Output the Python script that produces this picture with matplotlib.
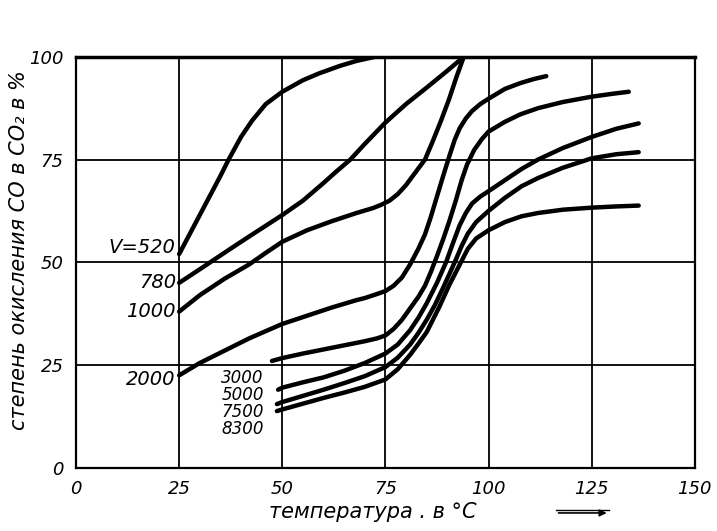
import numpy as np
import matplotlib.pyplot as plt

# кривые: степень окисления CO (%) от температуры (°C) при разных объемных скоростях
v520_x = [25, 30, 35, 37, 40, 42.7, 46, 50, 55, 59, 64, 68, 72.5]
v520_y = [52, 61.5, 71, 75, 80.5, 84.5, 88.5, 91.5, 94.3, 96, 97.8, 99, 100]

v780_x = [25, 30, 37, 42, 50, 55, 60, 63, 66.5, 70, 75, 80, 85, 90, 94]
v780_y = [45, 48.3, 53, 56.3, 61.5, 65, 69.3, 72, 75, 78.8, 84, 88.5, 92.5, 96.6, 100]

v1000_x = [25, 30, 36, 42, 46, 50, 56, 62, 68, 72, 74, 76, 78, 80, 82, 84.6, 86.5, 88.5, 90.4, 92.2, 94]
v1000_y = [38, 42, 46, 49.5, 52.3, 55, 57.8, 60, 62, 63.2, 64, 65, 66.6, 68.8, 71.5, 75, 79.5, 84.5, 89.6, 95, 100]

v2000_x = [25, 30, 35, 42, 50, 56, 62, 68, 70, 73, 75, 77, 79, 81, 83, 84.6, 86, 87.5, 89, 90.4,
           91.8, 93, 94.5, 96, 98, 100, 104, 107.7, 111, 114]
v2000_y = [22.5, 25.5, 28, 31.5, 35, 37, 39, 40.8, 41.3, 42.3, 43, 44.3, 46.3, 49.5, 53.3, 56.8, 61, 66, 71, 75.5,
           79.8, 82.6, 85, 86.8, 88.5, 89.8, 92.2, 93.6, 94.6, 95.3]

v3000_x = [47.5, 50, 55, 60, 65, 70, 73, 75, 77, 79, 81, 83, 84.6, 86, 87.5, 89, 90.5, 92, 93.5, 94.8,
           96.5, 98.4, 100, 104, 107.7, 112, 118, 125, 130, 134]
v3000_y = [26, 26.7, 27.8, 28.8, 29.8, 30.8, 31.5, 32.2, 33.8, 36, 38.8, 41.6, 44.3, 47.6, 51.5, 55.6, 60, 64.8, 70, 73.8,
           77.3, 80, 81.8, 84.2, 86, 87.5, 89, 90.3, 91, 91.5]

v5000_x = [49, 50, 55, 60, 65, 70, 75, 78, 81, 83, 85, 87.5, 89.7, 91.5, 93, 94.5, 96, 98, 100, 104, 108, 112,
           118, 125, 131, 136.4]
v5000_y = [19, 19.5, 20.8, 22, 23.6, 25.5, 27.8, 30, 33.5, 36.5, 40, 45, 50, 55, 59, 62, 64.3, 66, 67.3, 70, 72.7, 75,
           77.8, 80.5, 82.5, 83.8]

v7500_x = [48.7, 50, 55, 60, 65, 70, 75, 78, 81, 83, 85, 87, 89, 91.8, 93.5, 95, 97, 100, 104, 108, 112, 118,
           125, 131, 136.4]
v7500_y = [15.5, 16, 17.5, 19, 20.6, 22.3, 24.5, 26.8, 30, 32.8, 36, 39.6, 43.8, 50, 54, 57, 59.8, 62.5, 65.7, 68.5,
           70.5, 73, 75.3, 76.3, 76.8]

v8300_x = [48.7, 50, 55, 60, 65, 70, 75, 78, 81, 83, 85, 88, 90.5, 93.3, 95, 97, 100, 104, 108, 112, 118, 125,
           131, 136.4]
v8300_y = [13.8, 14.2, 15.6, 17, 18.3, 19.7, 21.5, 24, 27.5, 30.2, 33, 39, 44.5, 50, 53.3, 55.8, 57.8, 59.8, 61.2,
           62, 62.8, 63.3, 63.6, 63.8]

curves = [(v520_x, v520_y), (v780_x, v780_y), (v1000_x, v1000_y), (v2000_x, v2000_y),
          (v3000_x, v3000_y), (v5000_x, v5000_y), (v7500_x, v7500_y), (v8300_x, v8300_y)]

# подписи кривых
left_labels = ['V=520', '780', '1000', '2000']
left_label_y = [53.5, 45, 38, 21.4]
right_labels = ['3000', '5000', '7500', '8300']
right_label_y = [21.8, 17.7, 13.6, 9.4]

ticks = [0, 25, 50, 75, 100, 125, 150]
yticks = [0, 25, 50, 75, 100]

fig = plt.figure(figsize=(7.17, 5.31), dpi=100)
ax = fig.add_axes([0.106, 0.119, 0.863, 0.774])
ax.set_xlim(0, 150)
ax.set_ylim(0, 100)

for x in ticks[1:-1]:
    ax.axvline(x, color='black', lw=1.3, zorder=1)
for y in yticks[1:-1]:
    ax.axhline(y, color='black', lw=1.3, zorder=1)

for xs, ys in curves:
    ax.plot(xs, ys, color='black', lw=3.2, solid_capstyle='round', solid_joinstyle='round', zorder=3)

for s in ax.spines.values():
    s.set_linewidth(1.6)
ax.spines['top'].set_linewidth(2.5)

ax.set_xticks(ticks)
ax.set_yticks(yticks)
ax.tick_params(length=0, pad=9)
ax.set_xticklabels([str(t) for t in ticks], fontsize=13, style='italic')
ax.set_yticklabels([str(t) for t in yticks], fontsize=13, style='italic')

for txt, y in zip(left_labels, left_label_y):
    ax.text(24.2, y, txt, ha='right', va='center', fontsize=14, style='italic')
for txt, y in zip(right_labels, right_label_y):
    ax.text(45.5, y, txt, ha='right', va='center', fontsize=12, style='italic')

fig.text(0.027, 0.53, 'степень окисления CO в CO₂ в %', rotation=90,
         ha='center', va='center', fontsize=15, style='italic')
fig.text(0.52, 0.035, 'температура . в °C', ha='center', va='center',
         fontsize=15, style='italic')
fig.add_artist(plt.Line2D([0.775, 0.85], [0.04, 0.04], color='black', lw=1.0))
ax.annotate('', xy=(0.85, 0.034), xytext=(0.775, 0.034), xycoords='figure fraction',
            arrowprops=dict(arrowstyle='-|>', color='black', lw=1.2))

fig.savefig('out.png', dpi=100)
